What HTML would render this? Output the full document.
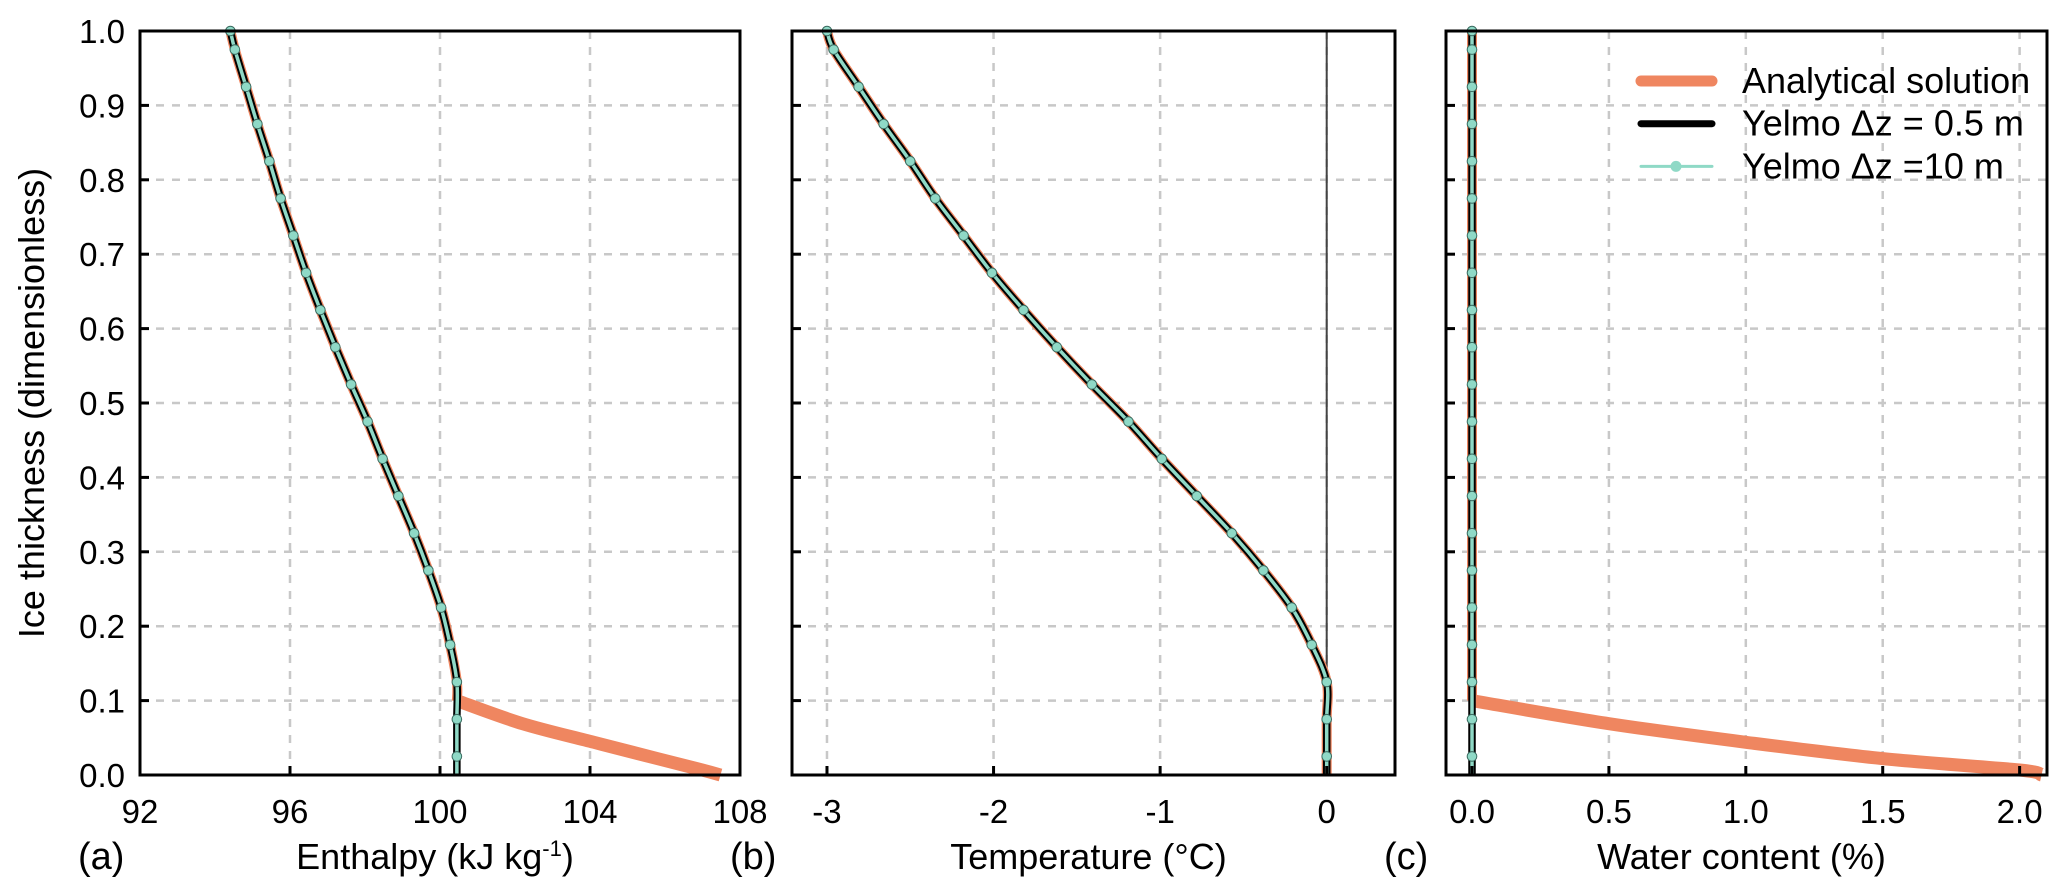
<!DOCTYPE html>
<html><head><meta charset="utf-8"><style>
html,body{margin:0;padding:0;background:#fff;}
svg{display:block;font-family:"Liberation Sans",Arial,sans-serif;}
</style></head><body>
<svg id="fig" width="2067" height="896" viewBox="0 0 2067 896"></svg>
<script>
// Data
const zLevels = [1.0,0.975,0.925,0.875,0.825,0.775,0.725,0.675,0.625,0.575,0.525,0.475,0.425,0.375,0.325,0.275,0.225,0.175,0.125,0.075,0.025,0.0];
const tempValues = [-3.0,-2.96,-2.81,-2.66,-2.50,-2.35,-2.18,-2.01,-1.82,-1.62,-1.41,-1.19,-0.99,-0.78,-0.57,-0.38,-0.21,-0.09,0,0,0,0];
const enthValues = [94.41,94.53,94.83,95.13,95.45,95.75,96.09,96.43,96.81,97.21,97.63,98.07,98.47,98.89,99.31,99.69,100.03,100.27,100.45,100.45,100.45,100.45];
const waterValues = [0,0,0,0,0,0,0,0,0,0,0,0,0,0,0,0,0,0,0,0,0,0];
const analyticZ = [0.1,0.069,0.044,0.022,0.0067,0.0];
const analyticEnth = [100.45,102.2,104.1,105.8,107.0,107.48];
const analyticWater = [0,0.5,1.0,1.5,2.0,2.08];
const yTicks = [0,0.1,0.2,0.3,0.4,0.5,0.6,0.7,0.8,0.9,1.0];
const enthTicks = [92,96,100,104,108];
const tempTicks = [-3,-2,-1,0];
const waterTicks = [0,0.5,1.0,1.5,2.0];

const NS="http://www.w3.org/2000/svg";
const svg=document.getElementById('fig');
function mk(tag,attrs,parent){const e=document.createElementNS(NS,tag);for(const k in attrs)e.setAttribute(k,attrs[k]);(parent||svg).appendChild(e);return e;}
function smooth(pts){
 if(pts.length<2)return '';
 let d='M'+pts[0][0]+','+pts[0][1];
 for(let i=0;i<pts.length-1;i++){
  const p0=pts[i-1]||pts[i],p1=pts[i],p2=pts[i+1],p3=pts[i+2]||p2;
  const c1=[p1[0]+(p2[0]-p0[0])/6,p1[1]+(p2[1]-p0[1])/6];
  const c2=[p2[0]-(p3[0]-p1[0])/6,p2[1]-(p3[1]-p1[1])/6];
  d+=' C'+c1[0]+','+c1[1]+' '+c2[0]+','+c2[1]+' '+p2[0]+','+p2[1];
 }
 return d;
}
const TOP=31,BOT=775,TFS=33,LFS=36;
function ys(v){return BOT-(BOT-TOP)*v;}
const panels=[
 {id:'a',x0:140,x1:740,min:92,max:108,ticks:enthTicks,fmt:v=>String(v),label:'Enthalpy (kJ kg',sup:'-1',letter:'(a)',model:enthValues,az:analyticZ,ax:analyticEnth,zeroLine:false},
 {id:'b',x0:792,x1:1395,min:-3.21,max:0.41,ticks:tempTicks,fmt:v=>String(v),label:'Temperature (°C)',letter:'(b)',model:tempValues,az:null,ax:null,zeroLine:true},
 {id:'c',x0:1446,x1:2047,min:-0.095,max:2.1,ticks:waterTicks,fmt:v=>v.toFixed(1),label:'Water content (%)',letter:'(c)',model:waterValues,az:analyticZ,ax:analyticWater,zeroLine:false}
];
panels.forEach((p,pi)=>{
 const g=mk('g',{});
 
 
 const xs=v=>p.x0+(p.x1-p.x0)*(v-p.min)/(p.max-p.min);
 yTicks.forEach(t=>{if(t>0&&t<1){const l=mk('line',{x1:p.x0,x2:p.x1,y1:ys(t),y2:ys(t),stroke:'#c8c8c8','stroke-width':2.5,'stroke-dasharray':'8,8'},g);
  
  }});
 p.ticks.forEach(t=>{const X=xs(t);if(X>p.x0+3&&X<p.x1-3){const l=mk('line',{x1:X,x2:X,y1:TOP,y2:BOT,stroke:'#c8c8c8','stroke-width':2.5,'stroke-dasharray':'8,8'},g);
  
  }});
 if(p.zeroLine){const l=mk('line',{x1:xs(0),x2:xs(0),y1:TOP,y2:BOT,stroke:'#444','stroke-width':2},g);
  
  }
 const upper=[];
 zLevels.forEach((z,i)=>{ if(p.az===null || z>=0.1) upper.push([xs(p.model[i]),ys(z)]); });
 if(p.az){ upper.push([xs(p.model[zLevels.indexOf(0.125)]),ys(0.1)]); }
 const anU=mk('path',{d:smooth(upper),fill:'none',stroke:'#ef8660','stroke-width':10,'stroke-linejoin':'round'},g);
 
 
 if(p.az){
  const lower=p.az.map((z,i)=>[xs(p.ax[i]),ys(z)]);
  const anL=mk('path',{d:smooth(lower),fill:'none',stroke:'#ef8660','stroke-width':13},g);
  
  
 }
 const mp=zLevels.map((z,i)=>[xs(p.model[i]),ys(z)]);
 const bl=mk('path',{d:smooth(mp),fill:'none',stroke:'#000','stroke-width':7.5},g);
 
 
 const tl=mk('path',{d:smooth(mp),fill:'none',stroke:'#8fd9c6','stroke-width':3.5},g);
 
 
 zLevels.forEach((z,i)=>{ if(z>0){const c=mk('circle',{cx:xs(p.model[i]),cy:ys(z),r:4.8,fill:'#8fd9c6',stroke:'#3a6b60','stroke-width':1},g);
  
  }});
 const fr=mk('rect',{x:p.x0,y:TOP,width:p.x1-p.x0,height:BOT-TOP,fill:'none',stroke:'#000','stroke-width':3},g);
 
 
 p.ticks.forEach(t=>{const X=xs(t);
  if(X>p.x0+3&&X<p.x1-3){const tk=mk('line',{x1:X,x2:X,y1:BOT,y2:BOT-9,stroke:'#000','stroke-width':3},g);
   
   }
  const tx=mk('text',{x:X,y:823,'font-size':TFS,'text-anchor':'middle',fill:'#000'},g);
  tx.textContent=p.fmt(t);
  
  });
 yTicks.forEach(t=>{ if(t>0&&t<1){const tk=mk('line',{x1:p.x0,x2:p.x0+9,y1:ys(t),y2:ys(t),stroke:'#000','stroke-width':3},g);
   
   }
  if(pi===0){const tx=mk('text',{x:125,y:ys(t)+12,'font-size':TFS,'text-anchor':'end',fill:'#000'},g);
   tx.textContent=t.toFixed(1);
   
   }});
 const xl=mk('text',{x:(p.x0+p.x1)/2-5,y:869,'font-size':LFS,'text-anchor':'middle',fill:'#000'},g);
 xl.textContent=p.label;
 if(p.sup){const s=mk('tspan',{dy:-13,'font-size':22},xl);s.textContent=p.sup;const s2=mk('tspan',{dy:13},xl);s2.textContent=')';}
 
 
 const lt=mk('text',{x:p.x0-62,y:869,'font-size':38,fill:'#000'},g);
 lt.textContent=p.letter;
 
 
});
const yl=mk('text',{x:0,y:0,'font-size':LFS,'text-anchor':'middle',transform:'translate(44,403) rotate(-90)',fill:'#000'});
yl.textContent='Ice thickness (dimensionless)';


const lg=mk('g',{});


const rows=[['Analytical solution','#ef8660',11,false],['Yelmo Δz = 0.5 m','#000',7,false],['Yelmo Δz =10 m','#8fd9c6',3,true]];
rows.forEach((r,i)=>{const y=81+i*42.7;
 const e=mk('g',{},lg);
 
 
 mk('line',{x1:1641,x2:1712,y1:y,y2:y,stroke:r[1],'stroke-width':r[2],'stroke-linecap':'round'},e);
 if(r[3])mk('circle',{cx:1676,cy:y,r:5.5,fill:'#8fd9c6'},e);
 const t=mk('text',{x:1742,y:y+12,'font-size':LFS,fill:'#000'},e);t.textContent=r[0];});
</script>
</body></html>
